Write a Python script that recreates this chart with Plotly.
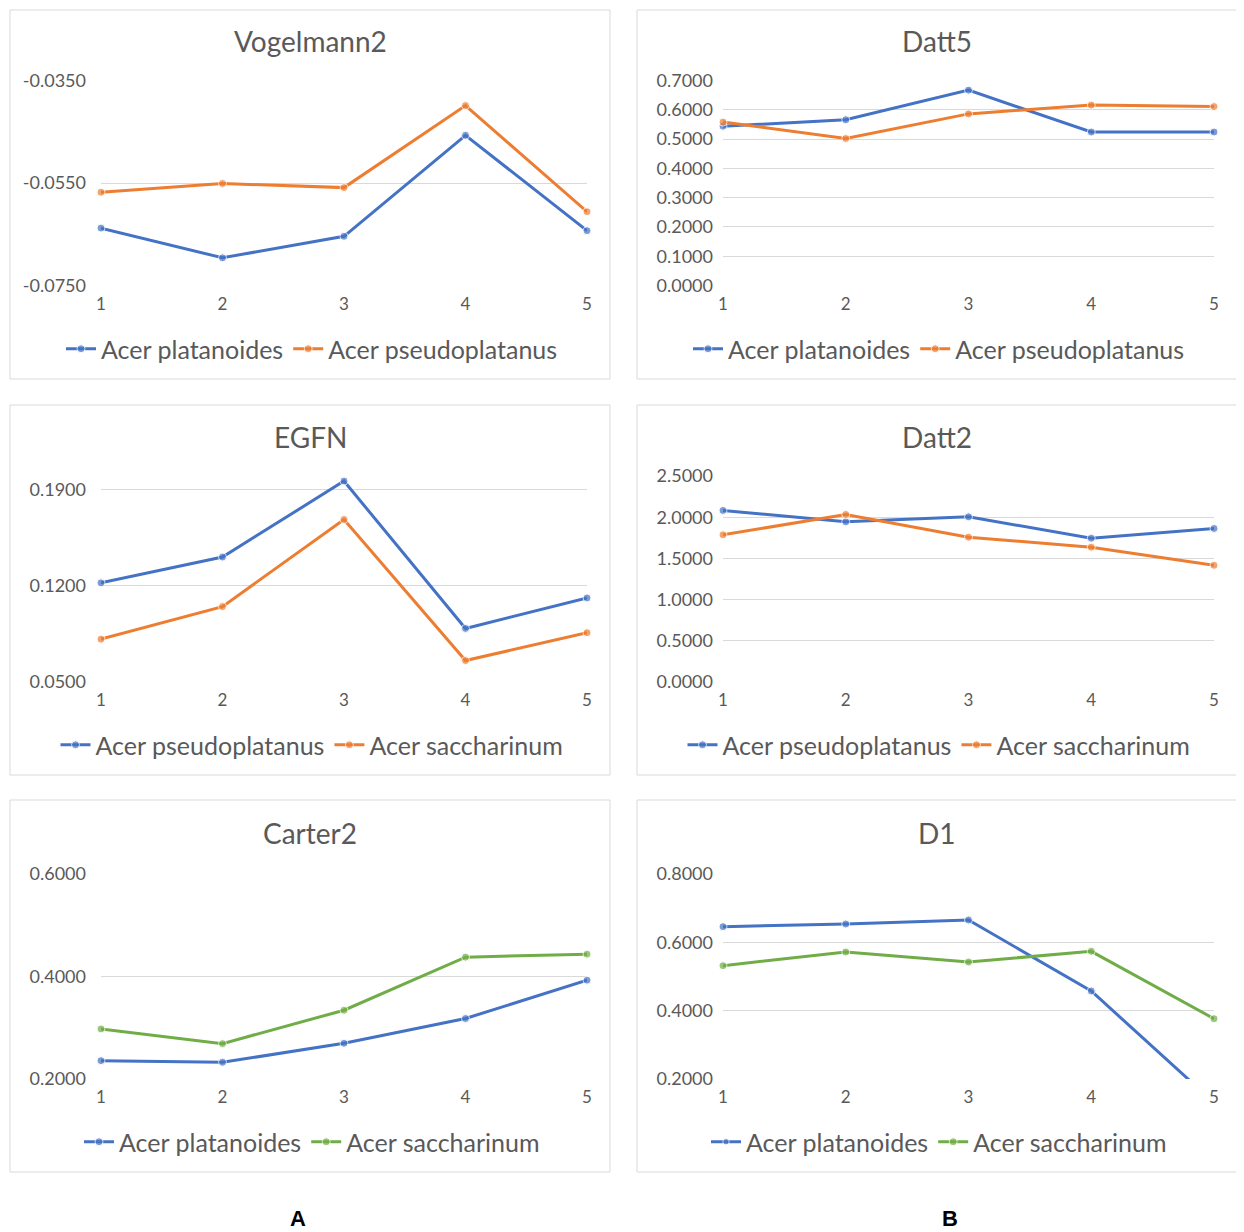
import plotly.graph_objects as go

# page body has an 8px margin; figure is sized/placed to compensate
OFF = 8
W, H = 1244 - OFF, 1232 - OFF

x_vals = [1, 2, 3, 4, 5]

# Vogelmann2
vog_platanoides = [-0.0638, -0.0696, -0.0654, -0.0457, -0.0643]
vog_pseudoplatanus = [-0.0568, -0.0551, -0.0559, -0.0399, -0.0606]
vog_ticks = [-0.0750, -0.0550, -0.0350]
vog_ticklabels = ["-0.0750", "-0.0550", "-0.0350"]

# Datt5
datt5_platanoides = [0.544, 0.566, 0.667, 0.524, 0.524]
datt5_pseudoplatanus = [0.558, 0.502, 0.586, 0.616, 0.611]
datt5_ticks = [0.0, 0.1, 0.2, 0.3, 0.4, 0.5, 0.6, 0.7]

# EGFN
egfn_pseudoplatanus = [0.1222, 0.1410, 0.1963, 0.0890, 0.1112]
egfn_saccharinum = [0.0812, 0.1049, 0.1683, 0.0656, 0.0859]
egfn_ticks = [0.05, 0.12, 0.19]

# Datt2
datt2_pseudoplatanus = [2.082, 1.944, 2.005, 1.745, 1.863]
datt2_saccharinum = [1.786, 2.033, 1.757, 1.636, 1.416]
datt2_ticks = [0.0, 0.5, 1.0, 1.5, 2.0, 2.5]

# Carter2
carter_platanoides = [0.2358, 0.2326, 0.2697, 0.3180, 0.3928]
carter_saccharinum = [0.2977, 0.2690, 0.3342, 0.4378, 0.4436]
carter_ticks = [0.2, 0.4, 0.6]

# D1
d1_platanoides = [0.6459, 0.6537, 0.6654, 0.4576, 0.131]
d1_saccharinum = [0.5317, 0.5717, 0.5424, 0.5737, 0.3766]
d1_ticks = [0.2, 0.4, 0.6, 0.8]

BLUE = "#4472C4"
ORANGE = "#ED7D31"
GREEN = "#70AD47"
TXT = "#595959"
GRID = "#D9D9D9"
FONT = "Lato"

def px_x(p):
    return (p - OFF) / W

def px_y(p):
    return 1 - (p - OFF) / H

cols = [(101, 587), (723, 1214)]
rows = [(80.5, 285.5), (476, 682), (874, 1079)]
boxes_x = [(10, 610), (637, 1237)]
boxes_y = [(10, 379), (405, 775), (800, 1172)]
title_y = [41, 437, 833]
legend_y = [349, 745, 1142]

panels = [
    dict(title="Vogelmann2", r=0, c=0, rng=[-0.075, -0.035], ticks=vog_ticks, ticktext=vog_ticklabels,
         series=[("Acer platanoides", vog_platanoides, BLUE), ("Acer pseudoplatanus", vog_pseudoplatanus, ORANGE)]),
    dict(title="Datt5", r=0, c=1, rng=[0.0, 0.7], ticks=datt5_ticks, ticktext=None,
         series=[("Acer platanoides", datt5_platanoides, BLUE), ("Acer pseudoplatanus", datt5_pseudoplatanus, ORANGE)]),
    dict(title="EGFN", r=1, c=0, rng=[0.05, 0.20], ticks=egfn_ticks, ticktext=None,
         series=[("Acer pseudoplatanus", egfn_pseudoplatanus, BLUE), ("Acer saccharinum", egfn_saccharinum, ORANGE)]),
    dict(title="Datt2", r=1, c=1, rng=[0.0, 2.5], ticks=datt2_ticks, ticktext=None,
         series=[("Acer pseudoplatanus", datt2_pseudoplatanus, BLUE), ("Acer saccharinum", datt2_saccharinum, ORANGE)]),
    dict(title="Carter2", r=2, c=0, rng=[0.2, 0.6], ticks=carter_ticks, ticktext=None,
         series=[("Acer platanoides", carter_platanoides, BLUE), ("Acer saccharinum", carter_saccharinum, GREEN)]),
    dict(title="D1", r=2, c=1, rng=[0.2, 0.8], ticks=d1_ticks, ticktext=None,
         series=[("Acer platanoides", d1_platanoides, BLUE), ("Acer saccharinum", d1_saccharinum, GREEN)]),
]

fig = go.Figure()
layout = dict(
    width=W, height=H,
    margin=dict(l=0, r=0, t=0, b=0, autoexpand=False),
    paper_bgcolor="white", plot_bgcolor="white",
    showlegend=True,
    font=dict(family=FONT, color=TXT),
)
annotations = []
shapes = []

for i, p in enumerate(panels):
    n = i + 1
    xa = "xaxis" if n == 1 else f"xaxis{n}"
    ya = "yaxis" if n == 1 else f"yaxis{n}"
    xr = "x" if n == 1 else f"x{n}"
    yr = "y" if n == 1 else f"y{n}"
    lg = "legend" if n == 1 else f"legend{n}"
    cx0, cx1 = cols[p["c"]]
    ry0, ry1 = rows[p["r"]]
    layout[xa] = dict(
        domain=[px_x(cx0), px_x(cx1)], anchor=yr, range=[1, 5],
        tickvals=x_vals, showgrid=False, zeroline=False, showline=False,
        ticks="", tickfont=dict(size=17, color=TXT, family=FONT), ticklabelstandoff=6,
        fixedrange=True, automargin=False,
    )
    yax = dict(
        domain=[px_y(ry1), px_y(ry0)], anchor=xr, range=p["rng"],
        tickvals=p["ticks"], tickformat=".4f", showgrid=True, gridcolor=GRID, gridwidth=1,
        zeroline=False, showline=False, ticks="",
        tickfont=dict(size=18, color=TXT, family=FONT),
        ticklabelstandoff=14 if p["c"] == 0 else 9,
        fixedrange=True, automargin=False,
    )
    if p["ticktext"] is not None:
        yax["ticktext"] = p["ticktext"]
    layout[ya] = yax
    lo, hi = p["rng"]
    for name, vals, color in p["series"]:
        sizes = [8 if lo <= v <= hi else 0 for v in vals]
        fig.add_trace(go.Scatter(
            x=x_vals, y=vals, name=name, mode="lines+markers",
            line=dict(color=color, width=3),
            marker=dict(color=color, size=sizes, symbol="circle"),
            xaxis=xr, yaxis=yr, legend=lg, cliponaxis=False,
        ))
    bx0, bx1 = boxes_x[p["c"]]
    by0, by1 = boxes_y[p["r"]]
    shapes.append(dict(type="rect", xref="paper", yref="paper",
                       x0=px_x(bx0), x1=px_x(bx1), y0=px_y(by1), y1=px_y(by0),
                       line=dict(color=GRID, width=1), fillcolor="rgba(0,0,0,0)", layer="below"))
    cxm = (bx0 + bx1) / 2
    annotations.append(dict(text=p["title"], xref="paper", yref="paper",
                            x=px_x(cxm), y=px_y(title_y[p["r"]]), xanchor="center", yanchor="middle",
                            showarrow=False, font=dict(size=28, color=TXT, family=FONT)))
    layout[lg] = dict(
        orientation="h", x=px_x(cxm + 2), y=px_y(legend_y[p["r"]]), xanchor="center", yanchor="middle",
        xref="paper", yref="paper", font=dict(size=25, color=TXT, family=FONT),
        bgcolor="rgba(0,0,0,0)", itemwidth=30, tracegroupgap=0,
    )

annotations.append(dict(text="<b>A</b>", xref="paper", yref="paper", x=px_x(298), y=px_y(1218),
                        xanchor="center", yanchor="middle", showarrow=False,
                        font=dict(size=22, color="black", family="Liberation Sans")))
annotations.append(dict(text="<b>B</b>", xref="paper", yref="paper", x=px_x(950), y=px_y(1218),
                        xanchor="center", yanchor="middle", showarrow=False,
                        font=dict(size=22, color="black", family="Liberation Sans")))

layout["annotations"] = annotations
layout["shapes"] = shapes
fig.update_layout(**layout)
fig.write_html("out.html")
